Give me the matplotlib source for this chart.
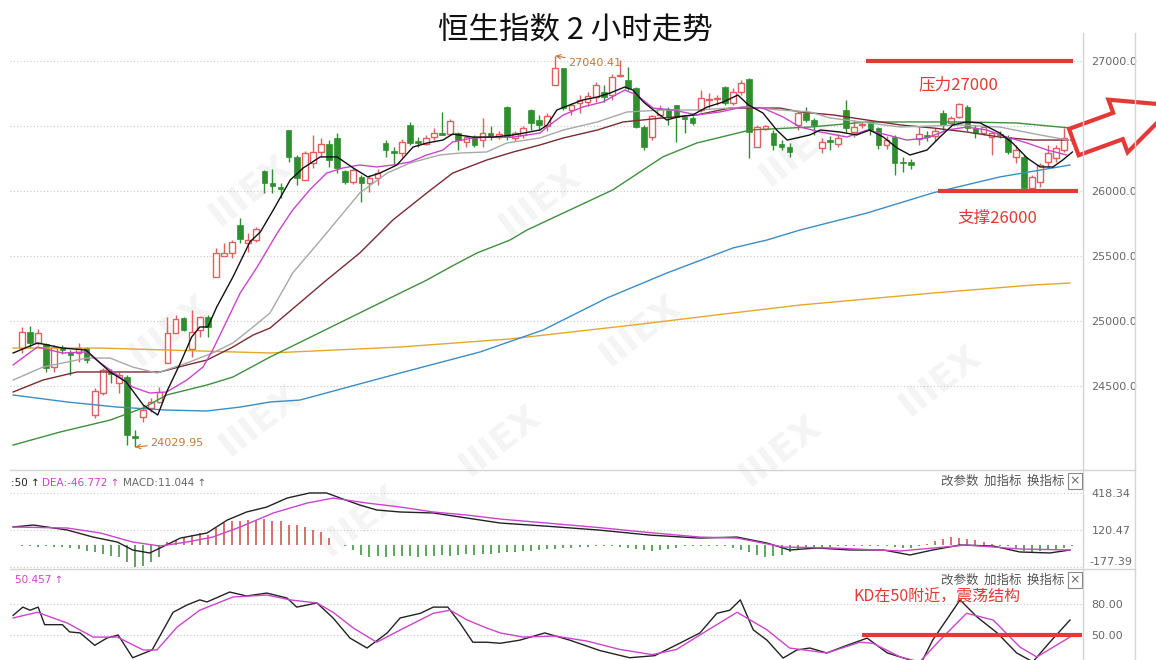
import matplotlib
matplotlib.use("Agg")
import matplotlib.pyplot as plt
import numpy as np
from matplotlib.patches import Polygon
from matplotlib.lines import Line2D

plt.rcParams['font.family'] = ['Noto Sans CJK SC', 'DejaVu Sans']

#==============================================================================
# 2小时K线 (开/高/低/收)
opens = [24792, 24915, 24831, 24823, 24646, 24800, 24762, 24754, 24792, 24277,
         24446, 24608, 24523, 24569, 24115, 24262, 24331, 24377, 24677, 24908,
         25023, 24785, 24931, 25031, 25338, 25500, 25523, 25738, 25600, 25623,
         26154, 26062, 26031, 26469, 26262, 26085, 26215, 26300, 26362, 26408,
         26154, 26069, 26108, 26062, 26100, 26369, 26308, 26292, 26508, 26385,
         26362, 26415, 26446, 26438, 26446, 26377, 26415, 26392, 26446, 26415,
         26646, 26408, 26431, 26623, 26546, 26500, 26815, 26946, 26623, 26677,
         26685, 26723, 26762, 26738, 26885, 26854, 26792, 26492, 26415, 26585,
         26623, 26662, 26569, 26562, 26623, 26700, 26710, 26800, 26677, 26762,
         26862, 26338, 26477, 26446, 26362, 26338, 26508, 26600, 26546, 26331,
         26392, 26362, 26623, 26454, 26508, 26531, 26485, 26354, 26415, 26223,
         26223, 26400, 26431, 26423, 26600, 26523, 26569, 26646, 26485, 26446, 26415,
         26440, 26415, 26262, 26262, 26023, 26069, 26223, 26254, 26315, 26392]
highs = [24954, 24962, 24938, 24831, 24815, 24815, 24777, 24831, 24800, 24485,
         24638, 24631, 24608, 24585, 24162, 24354, 24408, 24492, 25031, 25046,
         25031, 25085, 25038, 25046, 25561, 25600, 25623, 25792, 25677, 25723,
         26162, 26169, 26062, 26469, 26277, 26308, 26431, 26408, 26392, 26446,
         26162, 26177, 26123, 26123, 26169, 26392, 26338, 26400, 26531, 26415,
         26431, 26485, 26608, 26554, 26454, 26431, 26431, 26562, 26500, 26462,
         26654, 26462, 26500, 26631, 26585, 26600, 27040, 26946, 26677, 26738,
         26762, 26838, 26815, 26900, 27008, 26954, 26800, 26508, 26585, 26662,
         26646, 26662, 26569, 26577, 26777, 26754, 26738, 26808, 26792, 26854,
         26869, 26508, 26508, 26469, 26392, 26369, 26623, 26646, 26562, 26408,
         26423, 26438, 26700, 26546, 26531, 26531, 26492, 26423, 26431, 26262,
         26246, 26492, 26462, 26485, 26623, 26577, 26677, 26662, 26508, 26508, 26454,
         26460, 26431, 26354, 26277, 26123, 26215, 26354, 26354, 26485, 26431]
lows = [24754, 24792, 24815, 24608, 24608, 24746, 24585, 24685, 24677, 24254,
        24431, 24523, 24446, 24046, 24030, 24223, 24300, 24369, 24677, 24908,
        24923, 24723, 24877, 24877, 25338, 25500, 25485, 25600, 25530, 25608,
        25985, 25985, 25946, 26223, 26046, 26085, 26177, 26262, 26185, 26138,
        26054, 26054, 25915, 25992, 26046, 26262, 26200, 26262, 26354, 26338,
        26354, 26392, 26431, 26431, 26315, 26338, 26338, 26338, 26392, 26400,
        26392, 26385, 26408, 26469, 26469, 26462, 26815, 26623, 26585, 26600,
        26654, 26685, 26685, 26700, 26877, 26777, 26485, 26315, 26392, 26577,
        26508, 26377, 26446, 26508, 26608, 26638, 26662, 26662, 26662, 26738,
        26254, 26338, 26469, 26315, 26315, 26262, 26469, 26531, 26431, 26292,
        26315, 26338, 26454, 26415, 26485, 26431, 26323, 26323, 26123, 26146,
        26169, 26354, 26385, 26385, 26469, 26500, 26562, 26462, 26408, 26431, 26277,
        26410, 26285, 26215, 26023, 26023, 26031, 26185, 26223, 26300, 26360]
closes = [24915, 24831, 24908, 24638, 24800, 24777, 24739, 24792, 24700, 24462,
          24623, 24592, 24585, 24123, 24100, 24315, 24377, 24454, 24908, 25015,
          24931, 24915, 25031, 24954, 25523, 25523, 25608, 25631, 25623, 25708,
          26062, 26038, 26015, 26262, 26100, 26292, 26300, 26362, 26238, 26177,
          26069, 26162, 26062, 26100, 26138, 26315, 26292, 26377, 26369, 26369,
          26408, 26446, 26431, 26538, 26392, 26415, 26354, 26446, 26415, 26438,
          26415, 26446, 26485, 26523, 26508, 26577, 26946, 26638, 26662, 26700,
          26731, 26815, 26723, 26877, 26892, 26792, 26492, 26338, 26577, 26631,
          26569, 26569, 26554, 26523, 26715, 26708, 26715, 26677, 26762, 26831,
          26454, 26492, 26500, 26354, 26338, 26300, 26600, 26546, 26508, 26377,
          26377, 26408, 26485, 26492, 26515, 26469, 26354, 26392, 26215, 26215,
          26200, 26438, 26415, 26462, 26508, 26562, 26669, 26485, 26446, 26492, 26446,
          26430, 26300, 26315, 26023, 26108, 26200, 26292, 26331, 26408, 26400]

# 均线 (读图取点: K线序号, 数值)
ma5_x = [-1.1, 1.9, 2.6, 5.0, 7.9, 10.9, 12.9, 15.0, 16.8, 17.9,
         19.6, 21.0, 22.0, 23.0, 24.1, 26.1, 28.2, 29.5, 31.1, 33.2,
         34.8, 36.9, 39.0, 41.0, 42.8, 44.3, 46.4, 48.4, 50.1, 52.1,
         53.3, 55.8, 58.3, 60.8, 64.1, 65.0, 66.2, 67.8, 69.4, 71.2,
         72.8, 74.6, 75.6, 76.9, 78.6, 79.8, 81.1, 83.0, 84.8, 86.8,
         88.6, 89.9, 91.7, 93.4, 94.7, 95.9, 97.5, 98.8, 101.2, 103.3,
         104.9, 106.6, 108.3, 109.9, 112.0, 113.6, 115.2, 116.9, 118.6, 121.0,
         122.6, 124.4, 126.0, 127.6, 128.8, 130.0]
ma5_y = [24754, 24831, 24823, 24792, 24777, 24608, 24531, 24354, 24277, 24454,
         24677, 24877, 24954, 24954, 25108, 25338, 25608, 25685, 25854, 26085,
         26177, 26262, 26262, 26177, 26108, 26138, 26200, 26338, 26369, 26392,
         26438, 26415, 26415, 26431, 26469, 26508, 26623, 26662, 26700, 26723,
         26754, 26800, 26777, 26685, 26600, 26546, 26569, 26585, 26646, 26685,
         26738, 26662, 26600, 26469, 26392, 26408, 26431, 26469, 26454, 26431,
         26469, 26415, 26331, 26277, 26315, 26415, 26508, 26531, 26523, 26446,
         26369, 26254, 26185, 26185, 26238, 26300]
ma10_x = [-1.1, 1.9, 5.0, 8.0, 9.7, 11.8, 13.7, 15.8, 17.9, 20.4,
          22.4, 23.6, 25.4, 27.0, 29.1, 31.6, 33.5, 35.6, 37.7, 39.7,
          41.8, 43.9, 45.9, 48.0, 50.1, 52.1, 53.3, 55.8, 58.3, 60.8,
          64.1, 65.3, 67.0, 69.4, 71.9, 74.6, 76.1, 78.1, 80.6, 83.5,
          86.4, 89.2, 91.7, 94.2, 96.3, 98.8, 102.1, 104.6, 107.1, 109.5,
          112.0, 114.5, 116.9, 119.4, 121.9, 124.4, 126.9, 129.3]
ma10_y = [24662, 24800, 24754, 24762, 24677, 24585, 24492, 24446, 24454, 24546,
          24646, 24777, 25008, 25215, 25415, 25677, 25854, 26008, 26138, 26177,
          26200, 26185, 26200, 26223, 26277, 26315, 26377, 26408, 26415, 26415,
          26446, 26508, 26585, 26646, 26685, 26777, 26738, 26638, 26623, 26585,
          26608, 26646, 26638, 26569, 26492, 26454, 26415, 26469, 26431, 26392,
          26408, 26469, 26492, 26469, 26415, 26369, 26315, 26277]
ma20_x = [-1.1, 2.6, 8.0, 10.9, 13.7, 16.7, 20.4, 23.6, 26.1, 28.6,
          30.7, 33.5, 37.7, 41.8, 45.2, 48.0, 51.7, 54.2, 57.5, 60.0,
          64.1, 67.0, 71.2, 74.9, 79.3, 83.5, 87.6, 89.7, 93.8, 97.5,
          100.0, 108.7, 116.1, 121.0, 126.0, 129.5]
ma20_y = [24546, 24646, 24715, 24715, 24646, 24600, 24677, 24754, 24831, 24954,
          25062, 25369, 25677, 25985, 26138, 26215, 26277, 26292, 26300, 26369,
          26408, 26469, 26531, 26608, 26623, 26623, 26638, 26646, 26623, 26608,
          26562, 26492, 26508, 26492, 26431, 26392]
ma30_x = [-1.1, 2.6, 6.8, 10.9, 17.1, 20.4, 22.9, 26.1, 28.6, 30.7,
          37.7, 41.8, 45.9, 50.1, 53.3, 57.5, 60.8, 64.1, 67.0, 71.2,
          74.4, 79.3, 83.5, 87.6, 93.8, 96.3, 100.4, 104.6, 108.7, 112.7,
          116.9, 121.0, 125.1, 129.5]
ma30_y = [24454, 24546, 24608, 24608, 24608, 24662, 24700, 24800, 24892, 24946,
          25315, 25523, 25777, 25985, 26138, 26238, 26300, 26354, 26408, 26469,
          26531, 26562, 26585, 26638, 26638, 26608, 26585, 26546, 26508, 26485,
          26454, 26415, 26392, 26392]
ma60_x = [-1.1, 4.7, 10.9, 15.0, 17.9, 22.9, 26.1, 30.7, 46.8, 50.1,
          53.0, 56.3, 60.4, 62.5, 67.8, 73.1, 79.3, 83.5, 87.6, 90.1,
          97.5, 104.6, 116.9, 123.1, 129.7]
ma60_y = [24046, 24146, 24238, 24331, 24431, 24508, 24569, 24723, 25215, 25315,
          25415, 25523, 25623, 25700, 25854, 26008, 26262, 26369, 26431, 26469,
          26492, 26531, 26531, 26523, 26485]
ma120_x = [-1.1, 5.6, 11.8, 17.9, 22.9, 27.0, 30.7, 34.4, 46.8, 56.7,
           64.5, 72.4, 79.8, 88.0, 92.2, 96.3, 104.6, 112.7, 121.0, 129.7]
ma120_y = [24431, 24377, 24338, 24315, 24308, 24338, 24377, 24392, 24600, 24762,
           24931, 25177, 25369, 25562, 25623, 25700, 25831, 25985, 26108, 26200]
ma250_x = [-1.1, 9.7, 17.9, 30.7, 46.8, 60.4, 75.6, 88.0, 96.3, 112.7, 125.1, 129.7]
ma250_y = [24792, 24792, 24777, 24754, 24800, 24862, 24969, 25062, 25123, 25215,
           25277, 25292]

# MACD
macd_hist = [-10, -8, -12, -10, -15, -18, -20,
             -35, -45, -60, -75, -85, -95,
             -137, -177, -165, -137, -97,
             24, 40, 64, 80, 97, 80, 137, 177, 190, 190, 201, 190, 209, 190, 190,
             160, 160, 145, 120, 105, 56,
             0, -10, -40, -80, -97,
             -90, -95, -90, -85, -90, -95, -90, -85, -80, -85, -80, -75, -80, -75, -70, -65,
             -60, -55, -50, -45, -40, -35, -30, -25, -20, -15, -12, -10, -8, -10, -15, -20,
             -30, -40, -45, -40, -30, -20, -10, -5,
             -5, -10, -5, -8, -20, -40, -60,
             -80, -95, -90, -80, -60, -40,
             -25, -20, -15, -15, -10, -10, -8, -5, -5, -5, -10, -15, -20, -25,
             -10, 10, 30, 50, 65, 60, 50, 40, 25, 10,
             -5, -10, -30, -45, -55, -50, -40, -30, -20, -10]
dif_x = [-1.1, 1.4, 5.6, 8.8, 11.8, 13.7, 15.8, 17.1, 19.6, 22.9,
         25.4, 27.8, 30.3, 32.8, 35.6, 37.7, 39.4, 41.8, 43.9, 46.8,
         50.9, 55.1, 59.2, 65.3, 71.5, 77.7, 83.9, 88.5, 92.2, 95.0,
         98.4, 102.5, 106.6, 109.9, 112.7, 116.1, 120.2, 123.5, 127.2, 129.7]
dif_y = [145, 161, 121, 64, 24, -40, -64, -24, 56, 97,
         201, 266, 306, 378, 419, 419, 378, 322, 282, 266,
         258, 217, 177, 150, 120, 80, 56, 64, 16, -40,
         -24, -40, -40, -80, -40, 0, -8, -56, -64, -40]
dea_x = [-1.1, 5.6, 9.7, 13.7, 17.1, 20.4, 23.6, 27.0, 31.1, 35.3,
         38.5, 42.7, 46.8, 50.9, 55.1, 59.2, 65.3, 71.5, 77.7, 83.9,
         88.5, 94.2, 100.4, 108.7, 116.9, 123.5, 129.7]
dea_y = [145, 137, 97, 24, -8, 24, 64, 145, 258, 338,
         378, 338, 306, 266, 241, 209, 175, 140, 100, 64,
         56, -16, -24, -48, 0, -32, -40]

# KD
k_x = [-1.1, 0.1, 1.0, 2.0, 2.8, 5.0, 5.9, 7.2, 9.0, 10.5,
       11.9, 13.7, 16.1, 18.7, 20.4, 22.0, 22.9, 25.7, 27.8, 30.3,
       32.8, 34.0, 36.5, 38.5, 40.6, 42.7, 45.2, 46.8, 49.3, 50.9,
       52.7, 54.2, 55.8, 57.5, 59.2, 61.6, 64.7, 67.8, 71.5, 75.2,
       78.3, 81.4, 83.9, 86.0, 87.6, 88.9, 90.5, 92.2, 94.2, 95.9,
       97.5, 99.6, 102.1, 104.6, 107.1, 109.9, 111.1, 112.7, 116.1, 118.2,
       120.7, 123.1, 125.1, 127.2, 129.7]
k_y = [69, 77, 74, 77, 60, 60, 53, 52, 40, 47,
       50, 28, 35.5, 72, 79, 84, 82, 91.6, 87.8, 90.6,
       85.8, 77, 81, 66.5, 47, 37.4, 52, 66.5, 71, 77,
       77, 61.6, 43, 43, 42, 45, 52, 45, 35, 28,
       30, 42, 52, 71, 74, 84, 55, 45, 27.7, 35.5,
       37.4, 32.6, 40, 47, 32.6, 25.8, 20, 45, 84, 67.4,
       52, 32.6, 24, 43, 64.5]
d_x = [-1.1, 1.9, 5.6, 8.8, 11.8, 15.0, 16.7, 19.2, 22.0, 26.1,
       30.3, 33.2, 36.5, 38.5, 41.0, 43.9, 46.8, 50.9, 53.0, 55.1,
       57.5, 59.2, 62.0, 66.0, 70.0, 74.0, 78.0, 81.0, 83.9, 88.5,
       92.2, 95.0, 99.6, 103.7, 105.3, 108.7, 111.1, 113.6, 116.9, 120.2,
       123.5, 125.6, 129.7]
d_y = [66.5, 72, 61.6, 48, 48, 35.5, 35.5, 57.7, 74, 86.8,
       88.7, 84, 81, 72, 56.8, 43, 54.8, 71, 74, 64.5,
       56.8, 52, 48, 49, 44, 36, 31, 36, 50, 72,
       55, 37.4, 32.6, 43, 42, 28.7, 24, 45, 71, 64.5,
       38.4, 28.7, 48]

price_ticks = [27000, 26500, 26000, 25500, 25000, 24500]
macd_ticks = [418.34, 120.47, -177.39]
kd_ticks = [80, 50]

#==============================================================================
W, H = 1156, 660
RED = '#e06060'
GREEN = '#2f8f2f'
MARK = '#e53935'
LBL = '#c47a3a'
STEP = 8.08          # 每根K线像素宽度
X0 = 22              # 第一根K线像素位置


def box(x0, y0, x1, y1):
    return [x0 / W, 1 - y1 / H, (x1 - x0) / W, (y1 - y0) / H]


def px_to_i(x):
    return (x - X0) / STEP


fig = plt.figure(figsize=(W / 100, H / 100), dpi=100)

# 水印 (很淡, 放在最底层)
for wx, wy in [(250, 190), (540, 200), (800, 150), (170, 330), (640, 330),
               (940, 380), (260, 420), (500, 440), (780, 450), (360, 520)]:
    fig.text(wx / W, 1 - wy / H, 'IIIEX', fontsize=26, fontweight='bold',
             color='#f4f4f4', rotation=38, ha='center', va='center',
             family='DejaVu Sans', zorder=-5)

ax = fig.add_axes(box(10, 45, 1083, 470))
ax_m = fig.add_axes(box(10, 470, 1083, 569), sharex=ax)
ax_k = fig.add_axes(box(10, 569, 1083, 660), sharex=ax)
for a in (ax, ax_m, ax_k):
    a.patch.set_alpha(0)

o = np.array(opens); h = np.array(highs); l = np.array(lows); c = np.array(closes)
idx = np.arange(len(o))
up = c >= o

# ---- K线 ----
ax.vlines(idx, l, h, colors=np.where(up, RED, GREEN), lw=1, zorder=2)
bot = np.minimum(o, c)
hgt = np.maximum(np.abs(c - o), 8)
ax.bar(idx[up], hgt[up], bottom=bot[up], width=0.7, facecolor='white',
       edgecolor=RED, lw=1, zorder=3)
ax.bar(idx[~up], hgt[~up], bottom=bot[~up], width=0.7, color=GREEN,
       edgecolor=GREEN, lw=0.5, zorder=3)

for xs, ys, col in [(ma250_x, ma250_y, '#e3a92b'), (ma120_x, ma120_y, '#3c8dc5'),
                    (ma60_x, ma60_y, '#3f8f3f'), (ma30_x, ma30_y, '#7a2b33'),
                    (ma20_x, ma20_y, '#a8a8a8'), (ma10_x, ma10_y, '#cc44cc'),
                    (ma5_x, ma5_y, '#111111')]:
    ax.plot(xs, ys, color=col, lw=1, zorder=4)

# 压力 / 支撑
ax.hlines(27000, px_to_i(866), px_to_i(1073), color=MARK, lw=3, zorder=5)
ax.hlines(26000, px_to_i(938), px_to_i(1078), color=MARK, lw=3, zorder=5)
ax.text(px_to_i(958), 26815, '压力27000', color=MARK, fontsize=12,
        ha='center', va='center', zorder=6)
ax.text(px_to_i(997), 25792, '支撑26000', color=MARK, fontsize=12,
        ha='center', va='center', zorder=6)

ax.annotate('27040.41', xy=(66, 27040), xytext=(px_to_i(568), 26985),
            fontsize=8, color=LBL, ha='left', va='center', family='DejaVu Sans',
            arrowprops=dict(arrowstyle='->', color=LBL, lw=0.8, shrinkA=0, shrinkB=0))
ax.annotate('24029.95', xy=(14, 24030), xytext=(px_to_i(150), 24065),
            fontsize=8, color=LBL, ha='left', va='center', family='DejaVu Sans',
            arrowprops=dict(arrowstyle='->', color=LBL, lw=0.8, shrinkA=0, shrinkB=0))

ax.set_xlim(px_to_i(10), px_to_i(1083))
ax.set_ylim(23854, 27123)
ax.set_yticks(price_ticks, [f'{v:.1f}' for v in price_ticks])

# ---- MACD ----
hist = np.array(macd_hist)
ax_m.vlines(idx, 0, hist, colors=np.where(hist >= 0, '#d04848', GREEN), lw=1.1)
ax_m.plot(dif_x, dif_y, color='#222222', lw=1)
ax_m.plot(dea_x, dea_y, color='#cc44cc', lw=1)
ax_m.set_ylim(-193, 604)
ax_m.set_yticks(macd_ticks, [f'{v:.2f}' for v in macd_ticks[:2]] + [''])
ax_m.text(1.0 + 6 / 1073, -177.39, f'{macd_ticks[2]:.2f}',
          transform=ax_m.get_yaxis_transform(), fontsize=8, color='#666666',
          family='DejaVu Sans', ha='left', va='bottom')

# ---- KD ----
ax_k.plot(k_x, k_y, color='#222222', lw=1)
ax_k.plot(d_x, d_y, color='#cc44cc', lw=1)
ax_k.hlines(50, px_to_i(862), px_to_i(1082), color=MARK, lw=3, zorder=5)
ax_k.text(px_to_i(937), 86.8, 'KD在50附近，震荡结构', color=MARK, fontsize=11.5,
          ha='center', va='center')
ax_k.set_ylim(25.8, 113.9)
ax_k.set_yticks(kd_ticks, [f'{v:.2f}' for v in kd_ticks])

for a in (ax, ax_m, ax_k):
    for s in a.spines.values():
        s.set_visible(False)
    a.yaxis.tick_right()
    a.tick_params(axis='y', length=0, pad=6, labelsize=8, labelcolor='#666666')
    a.tick_params(axis='x', length=0, labelbottom=False)
    for t in a.get_yticklabels():
        t.set_family('DejaVu Sans')
    a.grid(axis='y', ls=(0, (1, 2)), color='#c8c8c8', lw=0.8)
    a.set_axisbelow(True)

# ---- 框线 ----
for (x0, y0, x1, y1) in [(10, 470, 1135, 470), (10, 569, 1135, 569),
                         (1083, 33, 1083, 660), (1135, 33, 1135, 660)]:
    fig.add_artist(Line2D([x0 / W, x1 / W], [1 - y0 / H, 1 - y1 / H],
                          transform=fig.transFigure, color='#d4d4d4', lw=1))

# ---- 文字 ----
fig.text(575 / W, 1 - 30 / H, '恒生指数 2 小时走势', fontsize=22, ha='center',
         va='center', color='#111111')
hdr = [(11, ':50 ↑', '#222222'), (42, 'DEA:-46.772 ↑', '#cc44cc'),
       (123, 'MACD:11.044 ↑', '#666666')]
for x, s, col in hdr:
    fig.text(x / W, 1 - 483 / H, s, fontsize=7.5, color=col, va='center',
             family='DejaVu Sans')
fig.text(15 / W, 1 - 580 / H, '50.457 ↑', fontsize=7.5, color='#cc44cc',
         va='center', family='DejaVu Sans')
for y in (481, 580):
    fig.text(941 / W, 1 - y / H, '改参数  加指标  换指标', fontsize=9,
             color='#555555', va='center')
    fig.text(1075 / W, 1 - y / H, '×', fontsize=9, color='#666666',
             va='center', ha='center', family='DejaVu Sans',
             bbox=dict(boxstyle='square,pad=0.15', fc='white', ec='#888888', lw=0.8))

# ---- 右侧箭头 ----
ang = np.deg2rad(20)
d = np.array([np.cos(ang), -np.sin(ang)])
n = np.array([np.sin(ang), np.cos(ang)])
B = np.array([1118, 126])
T = B - 47 * d
pts = [T - 14 * n, B - 14 * n, B - 28 * n, B + 60 * d, B + 28 * n, B + 14 * n, T + 14 * n]
pts = [(p[0] / W, 1 - p[1] / H) for p in pts]
fig.add_artist(Polygon(pts, closed=True, transform=fig.transFigure,
                       facecolor='white', edgecolor=MARK, lw=3, clip_on=False))

fig.savefig('out.png', dpi=100)
